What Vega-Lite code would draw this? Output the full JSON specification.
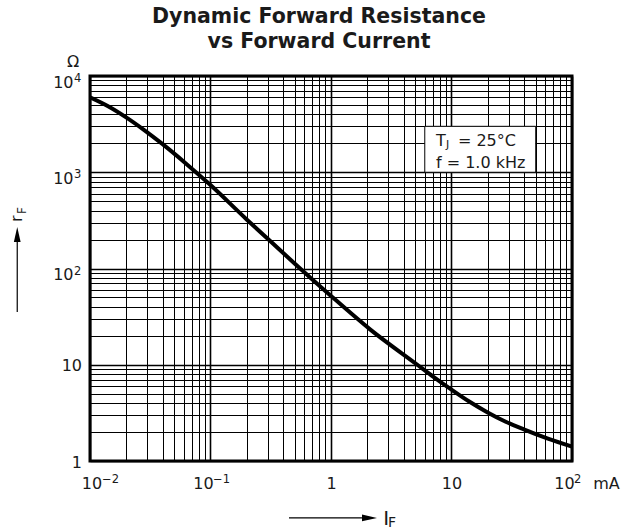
{
  "$schema": "https://vega.github.io/schema/vega-lite/v6.json",
  "width": 482,
  "height": 385,
  "autosize": {"type": "none"},
  "padding": {"left": 90, "top": 76, "right": 59, "bottom": 68},
  "background": "white",
  "config": {"font": "DejaVu Sans", "view": {"stroke": "black", "strokeWidth": 3}},
  "title": {
    "text": ["Dynamic Forward Resistance", "vs Forward Current"],
    "font": "DejaVu Sans",
    "fontSize": 20.5,
    "fontWeight": "bold",
    "lineHeight": 25,
    "anchor": "middle",
    "dx": -12,
    "offset": 2,
    "color": "#1a1a1a"
  },
  "encoding": {
    "x": {
      "field": "I",
      "type": "quantitative",
      "scale": {"type": "log", "domain": [0.01, 100], "nice": false, "zero": false},
      "axis": {
        "values": [0.01,0.02,0.03,0.04,0.05,0.06,0.07,0.08,0.09,0.1,0.2,0.3,0.4,0.5,0.6,0.7,0.8,0.9,1,2,3,4,5,6,7,8,9,10,20,30,40,50,60,70,80,90,100],
        "labelExpr": "datum.value == 0.01 ? '10' : datum.value == 0.1 ? '10' : datum.value == 1 ? '1' : datum.value == 10 ? '10' : datum.value == 100 ? '10' : ''",
        "grid": true,
        "gridColor": "black",
        "gridOpacity": 1,
        "gridWidth": {"condition": {"test": "indexof([0.01,0.1,1,10,100], datum.value) >= 0", "value": 1.6}, "value": 1},
        "ticks": false,
        "tickSize": 0,
        "domain": false,
        "labelFlush": false,
        "labelOverlap": false,
        "labelFont": "DejaVu Sans",
        "labelFontSize": 16,
        "labelColor": "#1a1a1a",
        "labelBaseline": "alphabetic",
        "labelPadding": 27,
        "labelOffset": {"condition": [
          {"test": "datum.value == 0.01", "value": 1.5},
          {"test": "datum.value == 0.1", "value": -7.5},
          {"test": "datum.value == 100", "value": -8}
        ], "value": 0},
        "title": "mA",
        "titleFont": "DejaVu Sans",
        "titleFontSize": 16,
        "titleFontWeight": "normal",
        "titleColor": "#1a1a1a",
        "titleX": 516,
        "titleY": 27,
        "titleAlign": "center",
        "titleBaseline": "alphabetic",
        "titleAngle": 0
      }
    },
    "y": {
      "field": "r",
      "type": "quantitative",
      "scale": {"type": "log", "domain": [1, 10000], "nice": false, "zero": false},
      "axis": {
        "values": [1,2,3,4,5,6,7,8,9,10,20,30,40,50,60,70,80,90,100,200,300,400,500,600,700,800,900,1000,2000,3000,4000,5000,6000,7000,8000,9000,10000],
        "labelExpr": "datum.value == 1 ? '1' : datum.value == 10 ? '10' : datum.value == 100 ? '10' : datum.value == 1000 ? '10' : datum.value == 10000 ? '10' : ''",
        "grid": true,
        "gridColor": "black",
        "gridOpacity": 1,
        "gridWidth": {"condition": {"test": "indexof([1,10,100,1000,10000], datum.value) >= 0", "value": 1.6}, "value": 1},
        "ticks": false,
        "tickSize": 0,
        "domain": false,
        "labelFlush": false,
        "labelOverlap": false,
        "labelFont": "DejaVu Sans",
        "labelFontSize": 16,
        "labelColor": "#1a1a1a",
        "labelAlign": "right",
        "labelBaseline": "alphabetic",
        "labelPadding": {"condition": {"test": "datum.value >= 100", "value": 17}, "value": 8.5},
        "labelOffset": {"condition": {"test": "datum.value >= 100", "value": 11}, "value": 6},
        "title": null
      }
    }
  },
  "layer": [
    {
      "data": {"values": [{"I": 6, "I2": 50, "r": 1000, "r2": 3000}]},
      "mark": {"type": "rect", "fill": "white", "stroke": "black", "strokeWidth": 1},
      "encoding": {"x2": {"field": "I2"}, "y2": {"field": "r2"}}
    },
    {
      "data": {"values": [
        {"I": 0.01, "r": 6012},
        {"I": 0.01413, "r": 4853},
        {"I": 0.01995, "r": 3720},
        {"I": 0.02818, "r": 2745},
        {"I": 0.03981, "r": 1970},
        {"I": 0.0631, "r": 1221},
        {"I": 0.1, "r": 735.5},
        {"I": 0.1995, "r": 323.6},
        {"I": 0.3162, "r": 190.5},
        {"I": 0.5012, "r": 112.2},
        {"I": 1, "r": 51.9},
        {"I": 2.109, "r": 23.33},
        {"I": 5.14, "r": 10.12},
        {"I": 7.08, "r": 7.5},
        {"I": 10, "r": 5.52},
        {"I": 14.13, "r": 4.13},
        {"I": 19.95, "r": 3.2},
        {"I": 28.18, "r": 2.56},
        {"I": 39.81, "r": 2.13},
        {"I": 63.1, "r": 1.706},
        {"I": 100, "r": 1.41}
      ]},
      "mark": {"type": "line", "color": "black", "strokeWidth": 4, "interpolate": "monotone", "clip": true}
    },
    {
      "data": {"values": [
        {"I": 7.43, "r": 1875, "t": "T"},
        {"I": 11.3, "r": 1875, "t": "= 25°C"},
        {"I": 7.43, "r": 1107, "t": "f = 1.0 kHz"},
        {"I": 0.00644, "r": 12400, "t": "Ω"}
      ]},
      "mark": {"type": "text", "align": "left", "baseline": "alphabetic", "fontSize": 16, "color": "#1a1a1a"},
      "encoding": {"text": {"field": "t"}}
    },
    {
      "data": {"values": [
        {"I": 9.0, "r": 1774, "t": "J"}
      ]},
      "mark": {"type": "text", "align": "left", "baseline": "alphabetic", "fontSize": 11, "color": "#1a1a1a"},
      "encoding": {"text": {"field": "t"}}
    },
    {
      "data": {"values": [
        {"I": 0.01259, "r": 0.591, "t": "−2"},
        {"I": 0.1049, "r": 0.591, "t": "−1"},
        {"I": 103.9, "r": 0.591, "t": "2"},
        {"I": 0.007366, "r": 8660, "t": "4"},
        {"I": 0.007366, "r": 866, "t": "3"},
        {"I": 0.007366, "r": 86.6, "t": "2"}
      ]},
      "mark": {"type": "text", "align": "left", "baseline": "alphabetic", "fontSize": 11.5, "color": "#1a1a1a"},
      "encoding": {"text": {"field": "t"}}
    },
    {
      "data": {"values": [{"I": 2.71, "r": 0.216, "t": "I"}]},
      "mark": {"type": "text", "align": "left", "baseline": "alphabetic", "fontSize": 20, "color": "#1a1a1a"},
      "encoding": {"text": {"field": "t"}}
    },
    {
      "data": {"values": [{"I": 2.97, "r": 0.206, "t": "F"}]},
      "mark": {"type": "text", "align": "left", "baseline": "alphabetic", "fontSize": 14, "color": "#1a1a1a"},
      "encoding": {"text": {"field": "t"}}
    },
    {
      "data": {"values": [{"I": 0.00273, "r": 304, "t": "r"}]},
      "mark": {"type": "text", "align": "left", "baseline": "alphabetic", "fontSize": 16, "angle": 270, "color": "#1a1a1a"},
      "encoding": {"text": {"field": "t"}}
    },
    {
      "data": {"values": [{"I": 0.00294, "r": 368, "t": "F"}]},
      "mark": {"type": "text", "align": "left", "baseline": "alphabetic", "fontSize": 12, "angle": 270, "color": "#1a1a1a"},
      "encoding": {"text": {"field": "t"}}
    },
    {
      "data": {"values": [{"I": 0.448, "I2": 1.807, "r": 0.256}]},
      "mark": {"type": "rule", "color": "black", "strokeWidth": 1.2},
      "encoding": {"x2": {"field": "I2"}}
    },
    {
      "data": {"values": [{"I": 0.00249, "r": 35.3, "r2": 188}]},
      "mark": {"type": "rule", "color": "black", "strokeWidth": 1.2},
      "encoding": {"y2": {"field": "r2"}}
    },
    {
      "data": {"values": [{"I": 2.087, "r": 0.256}]},
      "mark": {"type": "point", "shape": "M1,0L-1,0.45L-1,-0.45Z", "size": 225, "filled": true, "color": "black", "opacity": 1}
    },
    {
      "data": {"values": [{"I": 0.00249, "r": 225}]},
      "mark": {"type": "point", "shape": "M0,-1L0.45,1L-0.45,1Z", "size": 225, "filled": true, "color": "black", "opacity": 1}
    }
  ]
}
